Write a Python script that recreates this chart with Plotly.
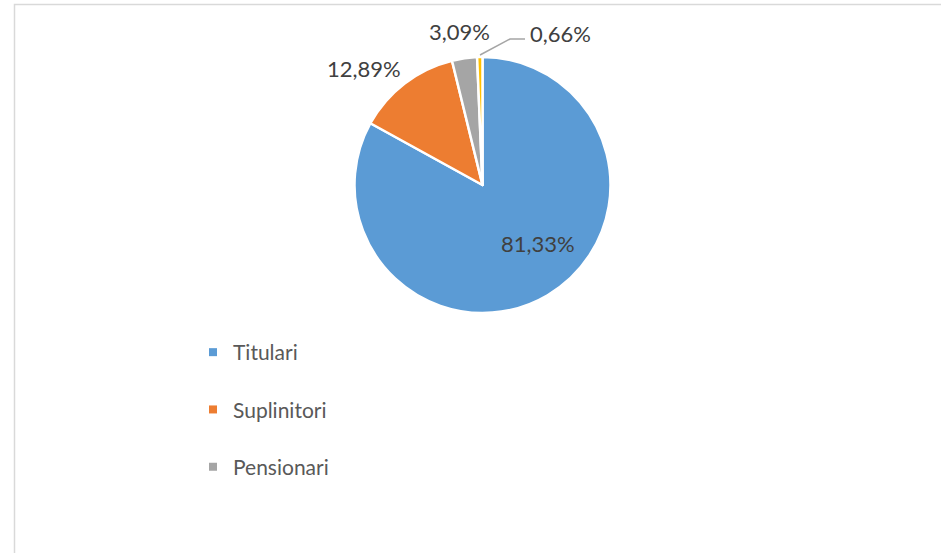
import plotly.graph_objects as go

W, H = 941, 553

categorii = ["Titulari", "Suplinitori", "Pensionari", "Asociați"]
procente = [81.33, 12.89, 3.09, 0.66]
culori = ["#5B9BD5", "#ED7D31", "#A5A5A5", "#FFC000"]
# doar primele trei apar in legenda originala
n_legenda = 3

FONT = "Lato"
TEXT = "#404040"


def px_x(x):
    return x / W


def px_y(y):
    return 1 - y / H


def eticheta(v):
    return f"{v:.2f}".replace(".", ",") + "%"


# centru si raza pie-ului, in pixeli
cx, cy, r = 482.5, 185, 128

fig = go.Figure()
fig.add_trace(go.Pie(
    labels=categorii,
    values=procente,
    marker=dict(colors=culori, line=dict(color="white", width=2.5)),
    sort=False,
    direction="clockwise",
    rotation=0,
    textinfo="none",
    hoverinfo="label+percent",
    showlegend=False,
    domain=dict(x=[px_x(cx - r), px_x(cx + r)], y=[px_y(cy + r), px_y(cy - r)]),
))

# legenda construita separat (a patra categorie nu apare)
for i in range(n_legenda):
    fig.add_trace(go.Scatter(
        x=[None], y=[None], mode="markers",
        name=categorii[i], legendgroup=categorii[i],
        marker=dict(symbol="square", size=8, color=culori[i]),
        showlegend=True,
    ))

# pozitiile etichetelor de date (pixeli)
pozitii = [(538, 243), (364, 68), (459, 32), (560, 33)]
for v, (x, y) in zip(procente, pozitii):
    fig.add_annotation(
        x=px_x(x), y=px_y(y), xref="paper", yref="paper",
        text=eticheta(v), showarrow=False,
        font=dict(family=FONT, size=22, color=TEXT),
        xanchor="center", yanchor="middle",
    )

# linie de legatura pentru 0,66%
fig.add_shape(
    type="path", xref="paper", yref="paper",
    path=f"M {px_x(480)} {px_y(55)} L {px_x(510)} {px_y(39)} L {px_x(525)} {px_y(39)}",
    line=dict(color="#A5A5A5", width=1.5),
)

# chenarul graficului
fig.add_shape(
    type="rect", xref="paper", yref="paper",
    x0=px_x(14.5), x1=1.05, y0=-0.05, y1=px_y(4.5),
    line=dict(color="#D9D9D9", width=1.5),
)

fig.update_layout(
    width=W, height=H,
    margin=dict(l=0, r=0, t=0, b=0),
    paper_bgcolor="white", plot_bgcolor="white",
    xaxis=dict(visible=False), yaxis=dict(visible=False),
    legend=dict(
        x=px_x(193), y=px_y(332), xanchor="left", yanchor="top",
        font=dict(family=FONT, size=21, color="#595959"),
        tracegroupgap=27, itemwidth=30,
        bgcolor="rgba(0,0,0,0)",
    ),
)

# fara marginea implicita a paginii
fig.write_html(
    "out.html",
    config={"displayModeBar": False},
    post_script="document.body.style.margin='0';document.body.style.overflow='hidden';",
)
